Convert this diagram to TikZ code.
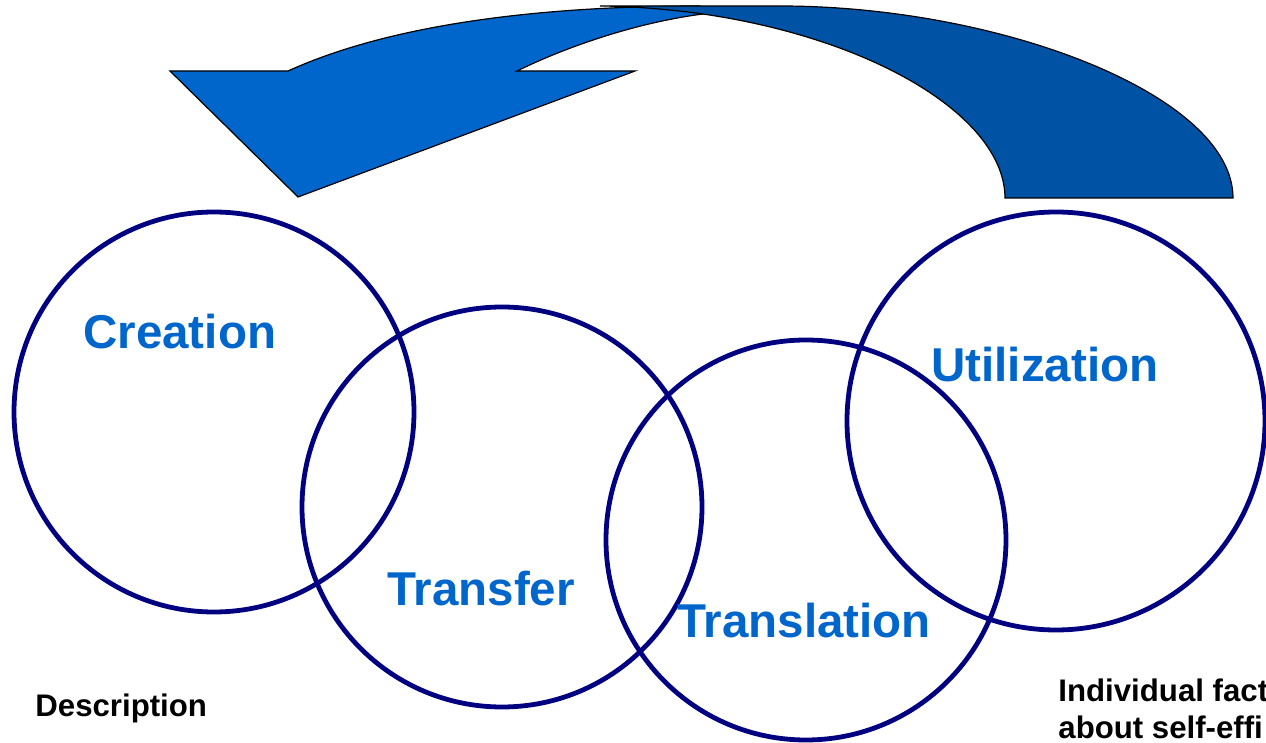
\documentclass[tikz,border=0pt]{standalone}
\usepackage{fontspec}
\setmainfont{Liberation Sans}
\definecolor{navyc}{RGB}{0,0,128}
\definecolor{labc}{RGB}{0,102,204}
\definecolor{lightarrow}{RGB}{0,102,204}
\definecolor{darkarrow}{RGB}{0,82,164}
\begin{document}
\begin{tikzpicture}[x=0.5pt,y=-0.5pt,
  ring/.style={circle,draw=navyc,line width=2.4pt,inner sep=0pt},
  lab/.style={anchor=base west,text=labc,font=\fontsize{23.75}{28}\selectfont\bfseries,inner sep=0pt},
  note/.style={anchor=base west,text=black,font=\fontsize{15.6}{18.5}\selectfont\bfseries,inner sep=0pt},
  arrowpart/.style={draw=black,line width=0.6pt,line join=miter}]
\useasboundingbox (0,0) rectangle (1266,743);
\clip (0,0) rectangle (1266,743);

% curved arrow: front (light) piece
\path[arrowpart,fill=lightarrow]
  (288,71) .. controls (400,20) and (560,6) .. (700,6)
  -- (703,14) .. controls (640,22) and (570,45) .. (517,71)
  -- (635,71) -- (298,197) -- (170,71) -- cycle;
% curved arrow: back (dark) piece
\path[arrowpart,fill=darkarrow]
  (600,6) -- (780,6) .. controls (1000,6) and (1233,95) .. (1233,198)
  -- (1005,198) .. controls (1005,120) and (880,40) .. (703,14)
  .. controls (660,8) and (620,6) .. (600,6) -- cycle;

% circles
\node[ring,minimum size=200pt] (c1) at (214,412) {};
\node[ring,minimum size=200pt] (c2) at (502,507) {};
\node[ring,minimum size=200pt] (c3) at (806,540) {};
\node[ring,minimum size=209pt] (c4) at (1056,421) {};

% labels
\node[lab] (creation) at (83,349) {Creation};
\node[lab] (transfer) at (387,606) {Transfer};
\node[lab] (translation) at (677,638) {Translation};
\node[lab] (utilization) at (931,382) {Utilization};

\node[note] (desc) at (35,717) {Description};
\node[note] (ind1) at (1058,702) {Individual fact};
\node[note] (ind2) at (1058,739) {about self-effi};
\end{tikzpicture}
\end{document}
